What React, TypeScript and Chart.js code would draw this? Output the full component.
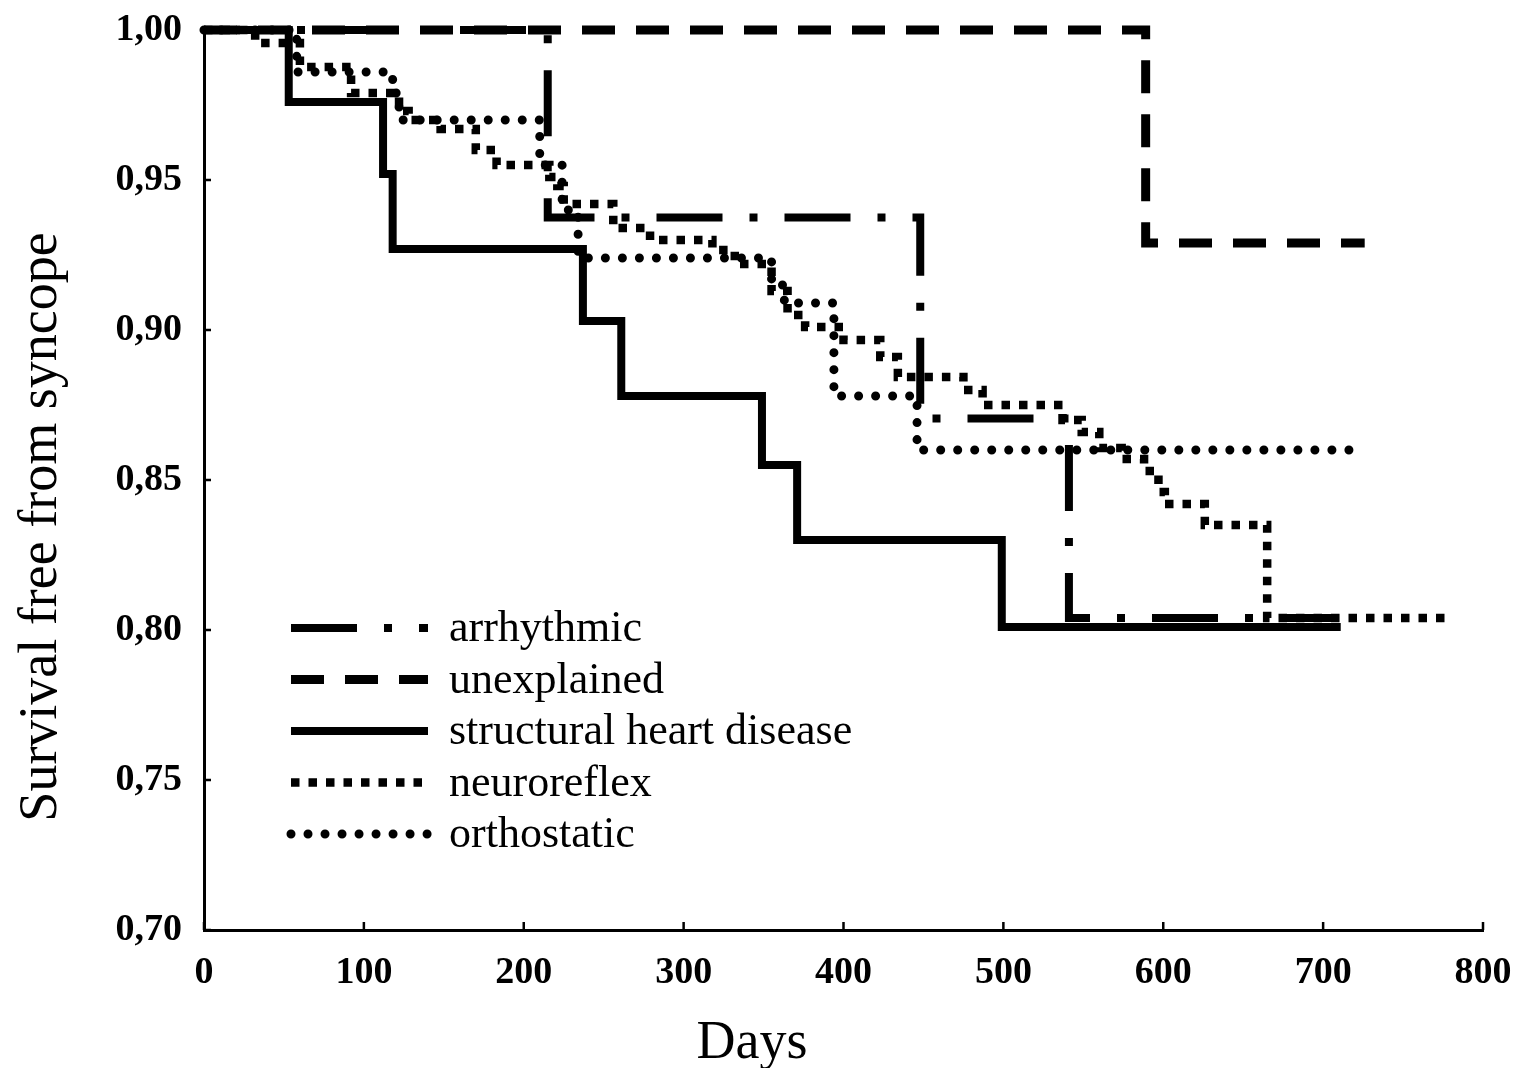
import React, { useEffect, useRef } from "react";
import { Chart, registerables } from "chart.js";

Chart.register(...registerables);

// ---- data (days / survival free from syncope) ----
const seriesLabels = ["arrhythmic", "unexplained", "structural heart disease", "neuroreflex", "orthostatic"];

const arrhythmicDays = [0, 215, 448, 541, 710];
const arrhythmicSurv = [1.0, 0.9375, 0.8705, 0.804, 0.804];

const unexplainedDays = [0, 589, 726];
const unexplainedSurv = [1.0, 0.929, 0.929];

const structuralDays = [0, 53, 112, 118, 237, 261, 349, 371, 499, 711];
const structuralSurv = [1.0, 0.976, 0.952, 0.927, 0.903, 0.878, 0.855, 0.83, 0.801, 0.801];

const neuroreflexDays = [0, 32, 60, 92, 122, 128, 148, 170, 183, 216, 221, 225, 256, 279, 318, 332, 355, 365, 376, 400, 423, 434, 475, 487, 537, 549, 560, 574, 588, 597, 601, 626, 665, 778];
const neuroreflexSurv = [1.0, 0.9957, 0.9877, 0.979, 0.973, 0.97, 0.967, 0.96, 0.955, 0.951, 0.948, 0.942, 0.934, 0.93, 0.9267, 0.922, 0.913, 0.905, 0.901, 0.8967, 0.891, 0.8843, 0.88, 0.875, 0.87, 0.866, 0.8607, 0.857, 0.853, 0.846, 0.842, 0.835, 0.804, 0.804];

const orthostaticDays = [0, 58, 118, 122, 210, 224, 234, 355, 363, 394, 446, 723];
const orthostaticSurv = [1.0, 0.986, 0.979, 0.97, 0.955, 0.94, 0.924, 0.915, 0.909, 0.878, 0.86, 0.86];

const xTicksMin = 0;
const xTicksMax = 800;
const xTickStep = 100;
const yTicksMin = 0.7;
const yTicksMax = 1.0;
const yTickStep = 0.05;

const xTitle = "Days";
const yTitle = "Survival free from syncope";

const FONT = '"Liberation Serif", "Times New Roman", Times, serif';

const toPoints = (days: number[], surv: number[]) => days.map((d, i) => ({ x: d, y: surv[i] }));

const legendPlugin = {
  id: "customLegend",
  afterDraw(chart: any) {
    const ctx = chart.ctx;
    chart.data.datasets.forEach((ds: any, i: number) => {
      const y = 628 + i * 51.5;
      ctx.save();
      ctx.strokeStyle = "#000";
      ctx.lineWidth = ds.borderWidth;
      ctx.setLineDash(ds.borderDash || []);
      ctx.lineCap = ds.borderCapStyle || "butt";
      ctx.beginPath();
      ctx.moveTo(291, y);
      ctx.lineTo(428, y);
      ctx.stroke();
      ctx.setLineDash([]);
      ctx.font = `44px ${FONT}`;
      ctx.fillStyle = "#000";
      ctx.textAlign = "left";
      ctx.textBaseline = "alphabetic";
      ctx.fillText(ds.label, 449, y + 13);
      ctx.restore();
    });
  },
};

const ticksTitlesPlugin = {
  id: "ticksTitles",
  afterDraw(chart: any) {
    const ctx = chart.ctx;
    const xs = chart.scales.x;
    const ys = chart.scales.y;
    const area = chart.chartArea;
    ctx.save();
    ctx.strokeStyle = "#000";
    ctx.lineWidth = 2.5;
    ctx.beginPath();
    xs.ticks.forEach((t: any) => {
      const px = xs.getPixelForValue(t.value);
      ctx.moveTo(px, area.bottom);
      ctx.lineTo(px, area.bottom - 8);
    });
    ys.ticks.forEach((t: any) => {
      const py = ys.getPixelForValue(t.value);
      ctx.moveTo(area.left, py);
      ctx.lineTo(area.left + 7, py);
    });
    ctx.stroke();

    ctx.fillStyle = "#000";
    ctx.font = `54px ${FONT}`;
    ctx.textAlign = "center";
    ctx.textBaseline = "alphabetic";
    ctx.fillText(xTitle, 752, 1058);

    ctx.translate(56, 527);
    ctx.rotate(-Math.PI / 2);
    ctx.fillText(yTitle, 0, 0);
    ctx.restore();
  },
};

export default function App() {
  const canvasRef = useRef<HTMLCanvasElement | null>(null);

  useEffect(() => {
    if (!canvasRef.current) return;
    const common = { pointRadius: 0, stepped: "before" as const, borderColor: "#000", fill: false, clip: false as any };
    const chart = new Chart(canvasRef.current, {
      type: "line",
      data: {
        datasets: [
          { ...common, label: seriesLabels[0], data: toPoints(arrhythmicDays, arrhythmicSurv), borderWidth: 8, borderDash: [66, 27, 8, 27], borderCapStyle: "butt" },
          { ...common, label: seriesLabels[1], data: toPoints(unexplainedDays, unexplainedSurv), borderWidth: 9, borderDash: [33, 21], borderCapStyle: "butt" },
          { ...common, label: seriesLabels[2], data: toPoints(structuralDays, structuralSurv), borderWidth: 8, borderDash: [], borderCapStyle: "butt" },
          { ...common, label: seriesLabels[3], data: toPoints(neuroreflexDays, neuroreflexSurv), borderWidth: 8.5, borderDash: [8.5, 9], borderCapStyle: "butt" },
          { ...common, label: seriesLabels[4], data: toPoints(orthostaticDays, orthostaticSurv), borderWidth: 9, borderDash: [0.01, 17], borderCapStyle: "round" },
        ] as any,
      },
      options: {
        responsive: false,
        animation: false,
        devicePixelRatio: 1,
        layout: { padding: { left: 0, top: 30, right: 36, bottom: 0 } },
        plugins: { legend: { display: false }, tooltip: { enabled: false }, title: { display: false } },
        elements: { line: { tension: 0 } },
        scales: {
          x: {
            type: "linear",
            min: xTicksMin,
            max: xTicksMax,
            ticks: { stepSize: xTickStep, color: "#000", font: { family: FONT, size: 38, weight: "bold" }, padding: 0, maxRotation: 0 },
            grid: { display: false, drawTicks: true, tickLength: 20 },
            border: { display: true, color: "#000", width: 3 },
            afterFit: (s: any) => { s.height = 138; },
          },
          y: {
            type: "linear",
            min: yTicksMin,
            max: yTicksMax,
            ticks: {
              stepSize: yTickStep,
              color: "#000",
              font: { family: FONT, size: 38, weight: "bold" },
              padding: 0,
              callback: (v: any) => Number(v).toFixed(2).replace(".", ","),
            },
            grid: { display: false, drawTicks: true, tickLength: 22 },
            border: { display: true, color: "#000", width: 3 },
            afterFit: (s: any) => { s.width = 204; },
          },
        },
      } as any,
      plugins: [legendPlugin, ticksTitlesPlugin],
    });
    return () => chart.destroy();
  }, []);

  return (
    <div style={{ position: "absolute", left: 0, top: 0, width: 1519, height: 1068, background: "#fff" }}>
      <canvas ref={canvasRef} width={1519} height={1068} style={{ display: "block" }} />
    </div>
  );
}
